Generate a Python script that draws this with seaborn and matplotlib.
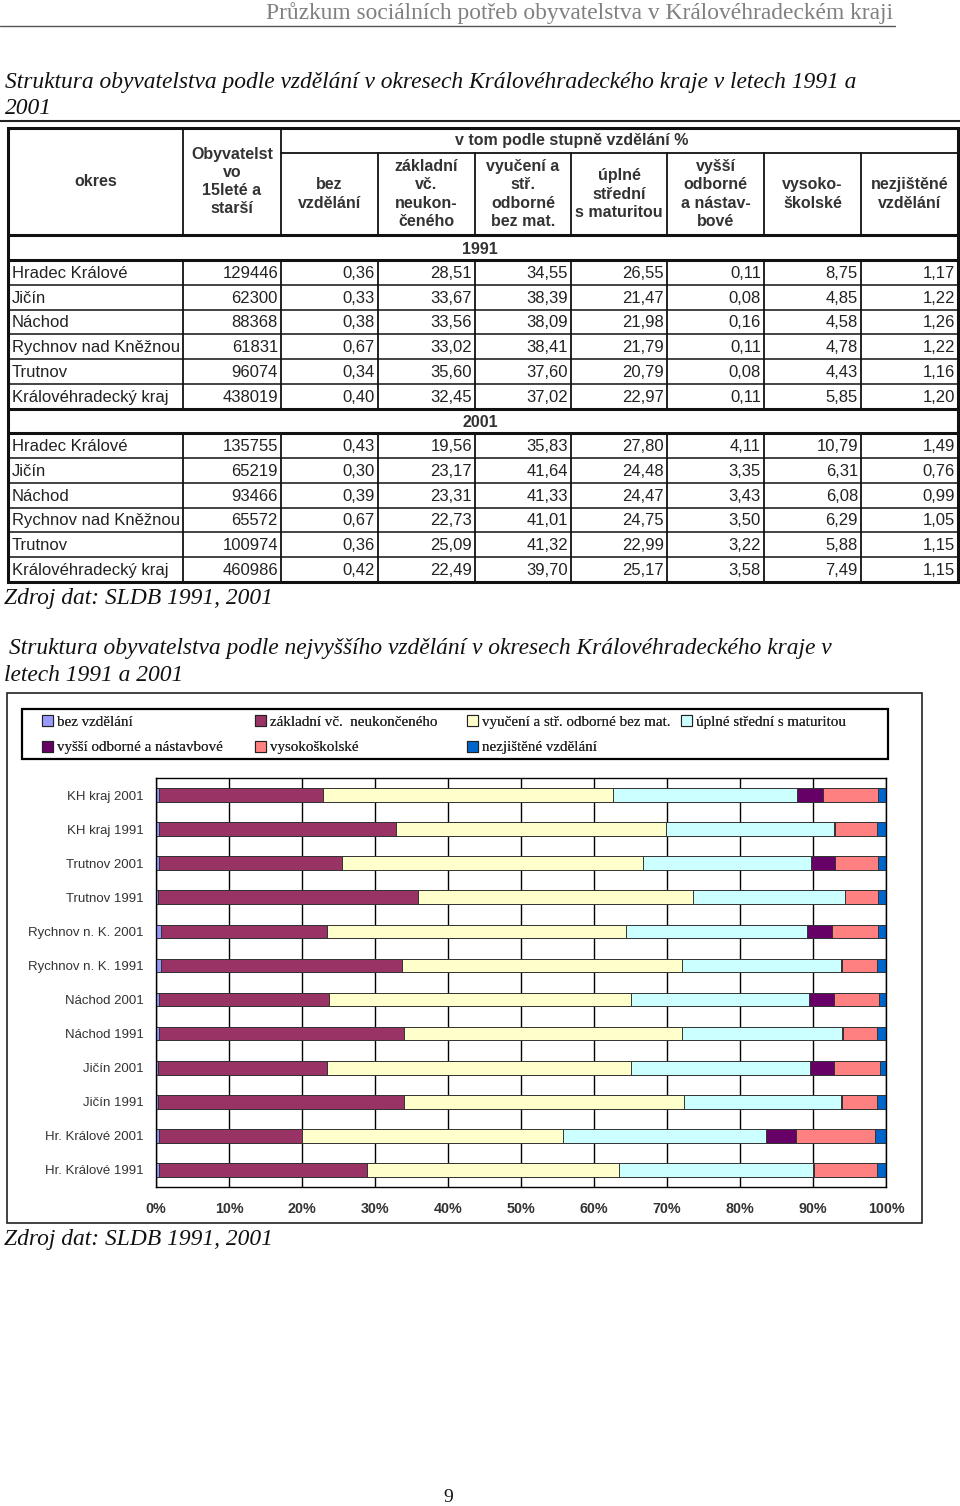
import numpy as np
import pandas as pd
import matplotlib
matplotlib.use("Agg")
import matplotlib.pyplot as plt
import seaborn as sns
from matplotlib.patches import Patch, Rectangle

# ---------------- data ----------------
districts = ["Hradec Králové", "Jičín", "Náchod", "Rychnov nad Kněžnou", "Trutnov", "Královéhradecký kraj"]
districts_short = ["Hr. Králové", "Jičín", "Náchod", "Rychnov n. K.", "Trutnov", "KH kraj"]
years = ["1991", "2001"]

pop_1991 = [129446, 62300, 88368, 61831, 96074, 438019]
pop_2001 = [135755, 65219, 93466, 65572, 100974, 460986]

categories = ["bez vzdělání", "základní vč.  neukončeného", "vyučení a stř. odborné bez mat.",
              "úplné střední s maturitou", "vyšší odborné a nástavbové", "vysokoškolské",
              "nezjištěné vzdělání"]

bez_1991 = [0.36, 0.33, 0.38, 0.67, 0.34, 0.40]
zakl_1991 = [28.51, 33.67, 33.56, 33.02, 35.60, 32.45]
vyuc_1991 = [34.55, 38.39, 38.09, 38.41, 37.60, 37.02]
upl_1991 = [26.55, 21.47, 21.98, 21.79, 20.79, 22.97]
vyssi_1991 = [0.11, 0.08, 0.16, 0.11, 0.08, 0.11]
vs_1991 = [8.75, 4.85, 4.58, 4.78, 4.43, 5.85]
nez_1991 = [1.17, 1.22, 1.26, 1.22, 1.16, 1.20]

bez_2001 = [0.43, 0.30, 0.39, 0.67, 0.36, 0.42]
zakl_2001 = [19.56, 23.17, 23.31, 22.73, 25.09, 22.49]
vyuc_2001 = [35.83, 41.64, 41.33, 41.01, 41.32, 39.70]
upl_2001 = [27.80, 24.48, 24.47, 24.75, 22.99, 25.17]
vyssi_2001 = [4.11, 3.35, 3.43, 3.50, 3.22, 3.58]
vs_2001 = [10.79, 6.31, 6.08, 6.29, 5.88, 7.49]
nez_2001 = [1.49, 0.76, 0.99, 1.05, 1.15, 1.15]

table_headers = ["okres", "Obyvatelst\nvo\n15leté a\nstarší", "bez\nvzdělání",
                 "základní\nvč.\nneukon-\nčeného", "vyučení a\nstř.\nodborné\nbez mat.",
                 "úplné\nstřední\ns maturitou", "vyšší\nodborné\na nástav-\nbové",
                 "vysoko-\nškolské", "nezjištěné\nvzdělání"]
group_header = "v tom podle stupně vzdělání %"

colors = ["#9999FF", "#993366", "#FFFFCC", "#CCFFFF", "#660066", "#FF8080", "#0066CC"]

vals = {
    "1991": [bez_1991, zakl_1991, vyuc_1991, upl_1991, vyssi_1991, vs_1991, nez_1991],
    "2001": [bez_2001, zakl_2001, vyuc_2001, upl_2001, vyssi_2001, vs_2001, nez_2001],
}
pops = {"1991": pop_1991, "2001": pop_2001}

# ---------------- figure ----------------
sns.set_style("white")
SANS = ["Liberation Sans", "DejaVu Sans"]
SERIF = ["Liberation Serif", "DejaVu Serif"]
plt.rcParams["font.family"] = SANS

fig = plt.figure(figsize=(9.6, 15.06), dpi=100)
page = fig.add_axes([0, 0, 1, 1], zorder=0)
page.set_xlim(0, 960)
page.set_ylim(1506, 0)
page.axis("off")
page.patch.set_alpha(0)

renderer = fig.canvas.get_renderer()


def fit_size(s, width, base=16, **kw):
    t = page.text(0, 0, s, fontsize=base, **kw)
    w = t.get_window_extent(renderer).width
    t.remove()
    return base * width / w


# page header
header = "Průzkum sociálních potřeb obyvatelstva v Královéhradeckém kraji"
hs = fit_size(header, 628, family=SERIF)
page.text(893, 13, header, ha="right", va="center", fontsize=hs, family=SERIF, color="#808080")
page.plot([0, 895], [26, 26], color="#555555", lw=1.0)

# title 1
t1a = "Struktura obyvatelstva podle vzdělání v okresech Královéhradeckého kraje v letech 1991 a"
ts = fit_size(t1a, 853, family=SERIF, style="italic")
tkw = dict(fontsize=ts, family=SERIF, style="italic", color="#111111", va="center", ha="left")
page.text(5, 82, t1a, **tkw)
page.text(5, 108, "2001", **tkw)
page.plot([0, 960], [121, 121], color="#222222", lw=1.5)

# ---------------- table ----------------
cols_x = [8, 183, 281, 378, 475, 571, 667, 764, 861, 958]
y_top, y_sub, y_hdr, y_lab1 = 128, 153, 235, 260
rh = 24.75
rows1 = y_lab1 + rh * np.arange(7)
y_lab2 = rows1[-1] + rh
rows2 = y_lab2 + rh * np.arange(7)
lc = "#111111"

page.add_patch(Rectangle((cols_x[0], y_top), cols_x[-1] - cols_x[0], rows2[-1] - y_top,
                         fill=False, lw=2.2, ec=lc, zorder=3))
for y in [y_hdr, y_lab1, rows1[-1], y_lab2]:
    page.plot([cols_x[0], cols_x[-1]], [y, y], color=lc, lw=2.2)
for y in list(rows1[1:-1]) + list(rows2[1:-1]):
    page.plot([cols_x[0], cols_x[-1]], [y, y], color=lc, lw=1.1)
page.plot([cols_x[2], cols_x[-1]], [y_sub, y_sub], color=lc, lw=1.3)
for i, x in enumerate(cols_x[1:-1], start=1):
    page.plot([x, x], [y_top if i <= 2 else y_sub, y_hdr], color=lc, lw=1.3)
    page.plot([x, x], [y_lab1, rows1[-1]], color=lc, lw=1.3)
    page.plot([x, x], [y_lab2, rows2[-1]], color=lc, lw=1.3)

hkw = dict(fontsize=11.5, fontweight="bold", color="#333333", ha="center", va="center",
           linespacing=1.27, family=SANS)
for i, h in enumerate(table_headers):
    cx = (cols_x[i] + cols_x[i + 1]) / 2
    cy = (y_top + y_hdr) / 2 if i < 2 else (y_sub + y_hdr) / 2
    page.text(cx, cy, h, **hkw)
page.text(572, (y_top + y_sub) / 2, group_header, **hkw)
page.text(480, (y_hdr + y_lab1) / 2 + 2, years[0], **hkw)
page.text(480, (rows1[-1] + y_lab2) / 2 + 2, years[1], **hkw)

dkw = dict(fontsize=12, color="#222222", va="center", family=SANS)
for yr, rows in ((years[0], rows1), (years[1], rows2)):
    for r in range(6):
        cy = (rows[r] + rows[r + 1]) / 2 + 1
        page.text(cols_x[0] + 4, cy, districts[r], ha="left", **dkw)
        page.text(cols_x[2] - 3, cy, str(pops[yr][r]), ha="right", **dkw)
        for k in range(7):
            v = vals[yr][k][r]
            page.text(cols_x[k + 3] - 3, cy, f"{v:.2f}".replace(".", ","), ha="right", **dkw)

page.text(4, 598, "Zdroj dat: SLDB 1991, 2001", **tkw)

# title 2
t2a = "Struktura obyvatelstva podle nejvyššího vzdělání v okresech Královéhradeckého kraje v"
page.text(9, 648, t2a, **tkw)
page.text(4, 675, "letech 1991 a 2001", **tkw)

# ---------------- stacked bar chart ----------------
page.add_patch(Rectangle((7, 693), 915, 530, fill=False, ec="#222222", lw=1.2))

labels, parts = [], []
for d in range(5, -1, -1):
    for yr in ("2001", "1991"):
        labels.append(f"{districts_short[d]} {yr}")
        parts.append([vals[yr][k][d] for k in range(7)])
parts = np.array(parts)
total = parts.sum(axis=1, keepdims=True)
cum = np.cumsum(parts / total * 100, axis=1)
df = pd.DataFrame(cum, columns=categories)
df["label"] = labels

ax = fig.add_axes([156 / 960, 1 - 1187 / 1506, 730 / 960, 409 / 1506], zorder=2)
for k in range(6, -1, -1):
    sns.barplot(data=df, x=categories[k], y="label", color=colors[k], saturation=1,
                width=0.4, edgecolor="#333333", linewidth=0.7, orient="h", ax=ax)

ax.set_xlim(0, 100)
ax.set_ylim(11.5, -0.5)
ax.set_xlabel("")
ax.set_ylabel("")
ax.set_xticks(np.arange(0, 101, 10))
ax.set_xticklabels([f"{v}%" for v in range(0, 101, 10)], fontsize=10.3, fontweight="bold",
                   color="#333333")
ax.set_yticks(range(len(labels)))
ax.set_yticklabels(labels, fontsize=9.5, color="#333333")
ax.set_yticks(np.arange(-0.5, 12, 1), minor=True)
ax.tick_params(axis="y", which="major", length=0, pad=9)
ax.tick_params(axis="y", which="minor", length=4, direction="out", color="black", width=1)
ax.tick_params(axis="x", which="major", length=4, direction="out", color="black", width=1, pad=7)
ax.xaxis.grid(True, color="black", lw=1.0)
ax.yaxis.grid(False)
ax.set_axisbelow(True)
for s in ax.spines.values():
    s.set_visible(True)
    s.set_color("black")
    s.set_linewidth(1.0)

# legend: box + four equally spaced columns (entries filled row-wise)
page.add_patch(Rectangle((22, 709), 866, 50, fill=False, ec="black", lw=1.6, zorder=3))
handles = [Patch(facecolor=c, edgecolor="#222222", lw=0.8, label=l) for c, l in zip(colors, categories)]
legend_cols = [[0, 4], [1, 5], [2, 6], [3]]
legend_x = [42, 255, 467, 681]
for cidx, xpos in zip(legend_cols, legend_x):
    lg = fig.legend(handles=[handles[i] for i in cidx], loc="upper left",
                    bbox_to_anchor=(xpos / 960, 1 - 715 / 1506), frameon=False,
                    prop={"family": SERIF, "size": 10.8}, handlelength=0.72, handleheight=0.72,
                    handletextpad=0.25, labelspacing=0.82, borderaxespad=0, borderpad=0)
    fig.add_artist(lg)

page.text(4, 1240, "Zdroj dat: SLDB 1991, 2001", **tkw)
page.text(448, 1497, "9", ha="center", va="center", fontsize=14, family=SERIF, color="#111111")

fig.savefig("out.png", dpi=100)
